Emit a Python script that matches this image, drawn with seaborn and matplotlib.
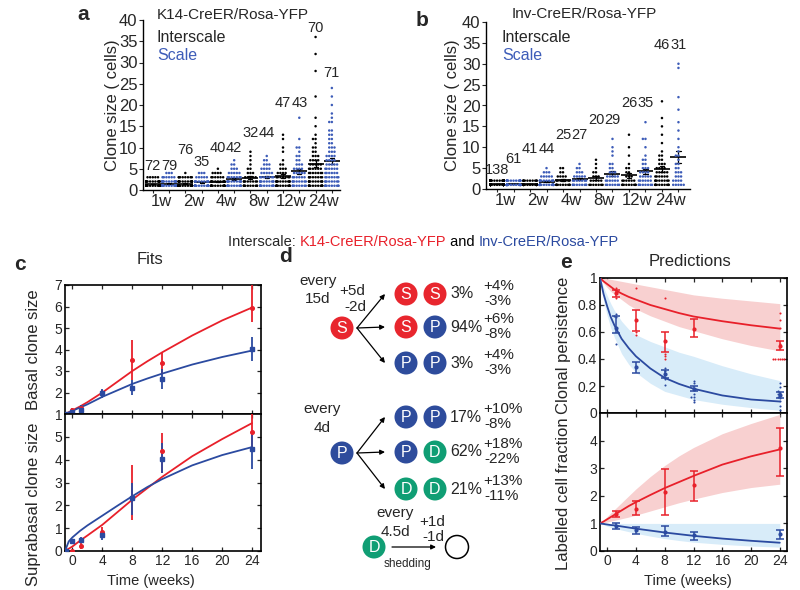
import warnings

import numpy as np
import pandas as pd
import matplotlib

matplotlib.use("Agg")
import matplotlib.pyplot as plt
from matplotlib.patches import Circle
import seaborn as sns

warnings.filterwarnings("ignore")

# ---------------- panels a / b : clone sizes, {clone size: number of clones}
weeks = ["1w", "2w", "4w", "8w", "12w", "24w"]

k14_interscale = [
    {1: 50, 2: 17, 3: 5},
    {1: 50, 2: 17, 3: 8, 4: 1},
    {1: 18, 2: 11, 3: 6, 4: 4, 5: 1},
    {1: 10, 2: 8, 3: 5, 4: 3, 5: 2, 6: 1, 7: 1, 8: 1, 9: 1},
    {1: 14, 2: 12, 3: 7, 4: 4, 5: 3, 6: 2, 7: 1, 9: 1, 10: 1, 12: 1, 13: 1},
    {1: 13, 2: 10, 3: 8, 4: 7, 5: 6, 6: 5, 7: 4, 8: 3, 9: 2, 10: 2, 11: 1, 12: 2,
     13: 1, 15: 1, 17: 1, 22: 1, 28: 1, 32: 1, 36: 1},
]
k14_scale = [
    {1: 52, 2: 18, 3: 6, 4: 3},
    {1: 18, 2: 9, 3: 5, 4: 3},
    {1: 12, 2: 12, 3: 7, 4: 5, 5: 3, 6: 2, 7: 1},
    {1: 12, 2: 10, 3: 7, 4: 5, 5: 4, 6: 3, 7: 2, 8: 1},
    {1: 8, 2: 8, 3: 6, 4: 5, 5: 4, 6: 3, 7: 2, 8: 2, 9: 1, 10: 2, 12: 1, 17: 1},
    {1: 10, 2: 8, 3: 7, 4: 6, 5: 6, 6: 5, 7: 4, 8: 4, 9: 3, 10: 3, 11: 2, 12: 2,
     13: 2, 14: 2, 16: 2, 17: 1, 18: 1, 20: 1, 22: 1, 24: 1},
]
inv_interscale = [
    {1: 100, 2: 38},
    {1: 31, 2: 10},
    {1: 10, 2: 7, 3: 4, 4: 2, 5: 2},
    {1: 7, 2: 5, 3: 3, 4: 2, 5: 1, 6: 1, 7: 1},
    {1: 9, 2: 6, 3: 3, 4: 2, 5: 2, 6: 1, 8: 1, 10: 1, 13: 1},
    {1: 10, 2: 8, 3: 6, 4: 5, 5: 4, 6: 3, 7: 2, 8: 2, 9: 1, 11: 1, 13: 1, 15: 1,
     17: 1, 21: 1},
]
inv_scale = [
    {1: 46, 2: 15},
    {1: 25, 2: 10, 3: 5, 4: 3, 5: 1},
    {1: 9, 2: 7, 3: 5, 4: 3, 5: 2, 6: 1},
    {1: 7, 2: 6, 3: 5, 4: 3, 5: 2, 6: 2, 8: 1, 9: 1, 10: 1, 12: 1},
    {1: 8, 2: 6, 3: 5, 4: 4, 5: 3, 6: 2, 7: 2, 8: 1, 10: 1, 12: 2, 16: 1},
    {1: 5, 2: 4, 3: 3, 4: 3, 5: 2, 6: 2, 7: 1, 8: 2, 9: 1, 10: 1, 12: 1, 14: 1,
     16: 1, 19: 1, 22: 1, 29: 1, 30: 1},
]
# height at which the clone count is written above each column
k14_label_y = [5.6, 5.6, 9.5, 6.6, 10, 10, 13.5, 13.5, 20.5, 20.5, 38, 27.5]
inv_label_y = [4.5, 7.2, 9.6, 9.6, 13, 13, 16.5, 16.5, 20.5, 20.5, 34.5, 34.5]

# ---------------- panel c : fits (weeks)
c_times = [-0.9, 0, 1.2, 4, 8, 12, 24]
red_basal = [1.0, 1.2, 1.3, 2.0, 3.5, 3.38, 5.95]
red_basal_lo = [1.0, 1.1, 1.22, 1.9, 2.6, 2.87, 5.3]
red_basal_hi = [1.0, 1.3, 1.38, 2.12, 4.44, 3.85, 7.2]
blue_basal = [1.0, 1.1, 1.2, 1.98, 2.23, 2.62, 4.04]
blue_basal_lo = [1.0, 1.05, 1.1, 1.76, 1.88, 2.18, 3.46]
blue_basal_hi = [1.0, 1.18, 1.4, 2.18, 2.57, 3.09, 4.6]

red_supra = [0.0, 0.02, 0.22, 0.85, 2.3, 4.36, 5.2]
red_supra_lo = [0.0, 0.0, 0.07, 0.62, 1.36, 3.4, 4.4]
red_supra_hi = [0.0, 0.05, 0.36, 1.06, 3.77, 5.16, 6.3]
blue_supra = [0.0, 0.45, 0.5, 0.7, 2.3, 4.02, 4.45]
blue_supra_lo = [0.0, 0.4, 0.35, 0.5, 1.58, 3.4, 3.6]
blue_supra_hi = [0.0, 0.5, 0.62, 0.9, 3.0, 4.72, 5.25]

c_fit_t = [-1, -0.5, 0, 1, 2, 4, 6, 8, 10, 12, 16, 20, 24]
red_basal_fit = [1.0, 1.08, 1.17, 1.35, 1.55, 2.0, 2.5, 3.0, 3.45, 3.87, 4.65, 5.35, 5.95]
blue_basal_fit = [1.0, 1.07, 1.15, 1.3, 1.45, 1.8, 2.1, 2.4, 2.65, 2.88, 3.3, 3.65, 3.95]
red_supra_fit = [0.0, 0.1, 0.2, 0.45, 0.68, 1.15, 1.7, 2.25, 2.75, 3.25, 4.15, 4.9, 5.6]
blue_supra_fit = [0.0, 0.42, 0.6, 0.88, 1.12, 1.55, 1.98, 2.4, 2.8, 3.15, 3.75, 4.2, 4.55]

# ---------------- panel e : predictions
e_times = [1.2, 4, 8, 12, 24]
red_pers = [0.89, 0.69, 0.53, 0.62, 0.5]
red_pers_lo = [0.86, 0.61, 0.45, 0.56, 0.47]
red_pers_hi = [0.91, 0.76, 0.6, 0.7, 0.53]
blue_pers = [0.63, 0.34, 0.29, 0.18, 0.133]
blue_pers_lo = [0.59, 0.3, 0.26, 0.165, 0.11]
blue_pers_hi = [0.72, 0.38, 0.32, 0.2, 0.157]

red_frac = [1.35, 1.52, 2.12, 2.39, 3.72]
red_frac_lo = [1.25, 1.3, 1.3, 1.82, 2.72]
red_frac_hi = [1.45, 1.82, 2.96, 2.9, 4.46]
blue_frac = [0.9, 0.75, 0.69, 0.57, 0.6]
blue_frac_lo = [0.78, 0.6, 0.53, 0.41, 0.45]
blue_frac_hi = [1.03, 0.87, 0.9, 0.69, 0.75]

# individual persistence values
red_dot_t = [1.2, 1.2, 4, 4, 4, 8, 8, 8, 8, 24, 24, 24, 24, 24, 24, 24, 24, 24, 24]
red_dot_v = [0.925, 0.85, 0.925, 0.58, 0.6, 0.85, 0.4, 0.42, 0.44,
             0.4, 0.4, 0.4, 0.4, 0.4, 0.4, 0.74, 0.69, 0.63, 0.51]
blue_dot_t = [1.2, 1.2, 1.2, 1.2, 8, 8, 8, 8, 12, 12, 12, 12, 12, 12, 12,
              24, 24, 24, 24, 24, 24, 24, 24, 24, 24, 24]
blue_dot_v = [0.71, 0.72, 0.73, 0.51, 0.21, 0.25, 0.31, 0.33,
              0.08, 0.1, 0.12, 0.12, 0.14, 0.22, 0.24,
              0.02, 0.05, 0.09, 0.11, 0.12, 0.13, 0.14, 0.15, 0.16, 0.19, 0.22]

e_fit_t = [-1, -0.5, 0, 0.5, 1, 2, 3, 4, 6, 8, 10, 12, 16, 20, 24]
red_pers_fit = [1.0, 0.975, 0.955, 0.935, 0.915, 0.885, 0.86, 0.84, 0.8, 0.77, 0.74, 0.715, 0.68, 0.65, 0.625]
red_pers_band_lo = [1.0, 0.96, 0.93, 0.9, 0.88, 0.84, 0.8, 0.77, 0.72, 0.68, 0.64, 0.61, 0.55, 0.5, 0.46]
red_pers_band_hi = [1.0, 1.0, 0.995, 0.99, 0.985, 0.975, 0.965, 0.955, 0.935, 0.915, 0.895, 0.875, 0.85, 0.83, 0.81]
blue_pers_fit = [1.0, 0.88, 0.79, 0.71, 0.65, 0.55, 0.48, 0.42, 0.33, 0.26, 0.215, 0.18, 0.13, 0.1, 0.085]
blue_pers_band_lo = [1.0, 0.83, 0.72, 0.63, 0.56, 0.44, 0.36, 0.3, 0.22, 0.16, 0.13, 0.1, 0.065, 0.04, 0.02]
blue_pers_band_hi = [1.0, 0.93, 0.87, 0.81, 0.76, 0.68, 0.62, 0.58, 0.53, 0.49, 0.45, 0.42, 0.35, 0.29, 0.24]

red_frac_fit = [1.0, 1.07, 1.15, 1.23, 1.31, 1.47, 1.63, 1.77, 2.03, 2.28, 2.5, 2.72, 3.13, 3.43, 3.68]
red_frac_band_lo = [1.0, 1.02, 1.05, 1.08, 1.11, 1.17, 1.23, 1.3, 1.45, 1.6, 1.75, 1.88, 2.12, 2.3, 2.42]
red_frac_band_hi = [1.0, 1.12, 1.25, 1.38, 1.5, 1.75, 2.0, 2.25, 2.7, 3.1, 3.45, 3.75, 4.25, 4.62, 4.95]
blue_frac_fit = [1.0, 0.98, 0.96, 0.94, 0.93, 0.89, 0.85, 0.81, 0.74, 0.67, 0.61, 0.55, 0.45, 0.37, 0.3]
blue_frac_band_lo = [1.0, 0.95, 0.9, 0.86, 0.82, 0.76, 0.7, 0.64, 0.54, 0.45, 0.38, 0.32, 0.24, 0.18, 0.14]
blue_frac_band_hi = [1.0, 1.0, 1.0, 1.0, 1.0, 1.0, 1.0, 1.0, 1.0, 1.0, 1.0, 1.0, 1.0, 1.0, 1.0]

# ---------------- panel d : division scheme
s_fates = [("S", "S", "3%", "+4%", "-3%"),
           ("S", "P", "94%", "+6%", "-8%"),
           ("P", "P", "3%", "+4%", "-3%")]
p_fates = [("P", "P", "17%", "+10%", "-8%"),
           ("P", "D", "62%", "+18%", "-22%"),
           ("D", "D", "21%", "+13%", "-11%")]

RED = "#e8202a"
BLUE = "#2b4aa0"
DOT_BLUE = "#3d5cb8"
CELL = {"S": "#e8262e", "P": "#2e4c9c", "D": "#109e74"}
W, H = 800, 590


def px_rect(x0, y0, x1, y1):
    return [x0 / W, 1 - y1 / H, (x1 - x0) / W, (y1 - y0) / H]


def fig_text(fig, x, y, s, **kw):
    return fig.text(x / W, 1 - y / H, s, **kw)


def clone_frame(interscale, scale):
    parts = []
    for wk, ci, cs in zip(weeks, interscale, scale):
        for tissue, counts in (("Interscale", ci), ("Scale", cs)):
            sizes = np.repeat(list(counts.keys()), list(counts.values()))
            parts.append(pd.DataFrame({"group": f"{wk} {tissue}", "tissue": tissue, "size": sizes}))
    return pd.concat(parts, ignore_index=True)


ORDER = [f"{wk} {t}" for wk in weeks for t in ("Interscale", "Scale")]


def clone_panel(ax, df, label_y, xlim):
    sns.swarmplot(data=df, x="group", y="size", hue="tissue", order=ORDER,
                  palette={"Interscale": "black", "Scale": DOT_BLUE},
                  size=1.8, linewidth=0, legend=False, ax=ax)
    sns.pointplot(data=df, x="group", y="size", order=ORDER, errorbar="se",
                  color="black", markers="_", linestyle="none", capsize=0.25,
                  markersize=11, markeredgewidth=1.2, err_kws={"linewidth": 0.9}, ax=ax)
    n = df.groupby("group").size()
    for i, (g, y) in enumerate(zip(ORDER, label_y)):
        ax.text(i, y, str(n[g]), ha="center", va="center", fontsize=10.5)
    ax.set_xlim(*xlim)
    ax.set_ylim(0, 40)
    ax.set_yticks(range(0, 41, 5))
    ax.set_xticks(range(12))
    ax.set_xticklabels([])
    ax.set_xticks([0.5 + 2 * i for i in range(6)], minor=True)
    ax.set_xticklabels(weeks, minor=True)
    ax.tick_params(axis="x", which="major", length=2.5, width=0.8)
    ax.tick_params(axis="x", which="minor", length=0, labelsize=12, pad=3)
    ax.tick_params(axis="y", length=3, width=0.8, labelsize=12, pad=1)
    ax.set_xlabel("")
    ax.set_ylabel("Clone size ( cells)", fontsize=12)
    sns.despine(ax=ax)
    for s in ("left", "bottom"):
        ax.spines[s].set_linewidth(1.0)
        ax.spines[s].set_color("black")


def box_axes(ax, xlim, ylim, yticks, ylabels, xlabels=True):
    ax.set_xlim(*xlim)
    ax.set_ylim(*ylim)
    ax.set_xticks(range(0, 25, 4))
    ax.set_yticks(yticks)
    ax.set_yticklabels(ylabels)
    if not xlabels:
        ax.set_xticklabels([])
    ax.tick_params(direction="in", top=True, right=True, length=3, width=0.9,
                   labelsize=10, pad=2)
    for s in ax.spines.values():
        s.set_linewidth(1.2)
        s.set_color("black")
    ax.set_xlabel("")


def fit_series(ax, t, v, lo, hi, fit_t, fit_v, color, marker):
    v, lo, hi = np.asarray(v), np.asarray(lo), np.asarray(hi)
    sns.lineplot(x=fit_t, y=fit_v, color=color, linewidth=1.3, ax=ax, zorder=3)
    ax.errorbar(t, v, yerr=[v - lo, hi - v], fmt=marker, ms=2.6, color=color,
                elinewidth=1.3, capsize=0, zorder=4)


def pred_series(ax, t, v, lo, hi, fit_t, fit_v, band_lo, band_hi, color, band):
    v, lo, hi = np.asarray(v), np.asarray(lo), np.asarray(hi)
    ax.fill_between(fit_t, band_lo, band_hi, color=band, lw=0, zorder=1)
    sns.lineplot(x=fit_t, y=fit_v, color=color, linewidth=1.3, ax=ax, zorder=3)
    ax.errorbar(t, v, yerr=[v - lo, hi - v], fmt="o", ms=2, color=color,
                elinewidth=1.1, capsize=3, capthick=1.1, zorder=4)


def main():
    sns.set_theme(style="ticks")
    plt.rcParams["font.family"] = ["Liberation Sans", "DejaVu Sans"]
    fig = plt.figure(figsize=(8, 5.9), dpi=100)

    # ---- a
    ax_a = fig.add_axes(px_rect(143, 20, 340, 190))
    clone_panel(ax_a, clone_frame(k14_interscale, k14_scale), k14_label_y, (-0.6, 11.5))
    ax_a.yaxis.set_label_coords(-0.117, 0.5)
    fig_text(fig, 83, 15, "a", fontsize=15, fontweight="bold", ha="center", va="center")
    fig_text(fig, 157, 15, "K14-CreER/Rosa-YFP", fontsize=11, va="center")
    fig_text(fig, 157, 37, "Interscale", fontsize=11.5, va="center")
    fig_text(fig, 157, 56, "Scale", fontsize=11.5, va="center", color=DOT_BLUE)

    # ---- b
    ax_b = fig.add_axes(px_rect(486, 22, 690, 189))
    clone_panel(ax_b, clone_frame(inv_interscale, inv_scale), inv_label_y, (-0.67, 11.7))
    ax_b.yaxis.set_label_coords(-0.127, 0.5)
    fig_text(fig, 422, 20, "b", fontsize=15, fontweight="bold", ha="center", va="center")
    fig_text(fig, 512, 14, "Inv-CreER/Rosa-YFP", fontsize=11, va="center")
    fig_text(fig, 502, 37, "Interscale", fontsize=11.5, va="center")
    fig_text(fig, 502, 56, "Scale", fontsize=11.5, va="center", color=DOT_BLUE)

    # ---- d (pixel coordinates), also carries the strain line
    ax_d = fig.add_axes(px_rect(270, 250, 540, 590))
    ax_d.set_xlim(270, 540)
    ax_d.set_ylim(590, 250)
    ax_d.axis("off")

    t0 = fig_text(fig, 228, 242, "Interscale: ", fontsize=10.5, va="center")
    prev = t0
    for s, col in (("K14-CreER/Rosa-YFP", RED), (" and ", "black"), ("Inv-CreER/Rosa-YFP", BLUE)):
        prev = ax_d.annotate(s, xy=(1, 0), xycoords=prev, va="bottom", ha="left",
                             fontsize=10.5, color=col, annotation_clip=False)

    # ---- c
    ax_c1 = fig.add_axes(px_rect(65, 285, 261, 414))
    ax_c2 = fig.add_axes(px_rect(65, 414, 261, 551))
    fit_series(ax_c1, c_times, red_basal, red_basal_lo, red_basal_hi, c_fit_t, red_basal_fit, RED, "o")
    fit_series(ax_c1, c_times, blue_basal, blue_basal_lo, blue_basal_hi, c_fit_t, blue_basal_fit, BLUE, "s")
    fit_series(ax_c2, c_times, red_supra, red_supra_lo, red_supra_hi, c_fit_t, red_supra_fit, RED, "o")
    fit_series(ax_c2, c_times, blue_supra, blue_supra_lo, blue_supra_hi, c_fit_t, blue_supra_fit, BLUE, "s")
    box_axes(ax_c1, (-1, 25.2), (1, 7), range(1, 8), [str(i) for i in range(1, 8)], xlabels=False)
    box_axes(ax_c2, (-1, 25.2), (0, 6), range(0, 6), [str(i) for i in range(0, 6)])
    ax_c1.set_ylabel("Basal clone size", fontsize=12)
    ax_c2.set_ylabel("Suprabasal clone size", fontsize=12)
    ax_c1.yaxis.set_label_coords(-0.122, 0.5)
    ax_c2.yaxis.set_label_coords(-0.122, 0.343)
    ax_c2.set_xlabel("Time (weeks)", fontsize=10.5)
    ax_c2.xaxis.set_label_coords(0.44, -0.17)
    fig_text(fig, 20, 265, "c", fontsize=15, fontweight="bold", ha="center", va="center")
    fig_text(fig, 150, 260, "Fits", fontsize=12, ha="center", va="center")

    # ---- e
    ax_e1 = fig.add_axes(px_rect(600, 278, 787, 413))
    ax_e2 = fig.add_axes(px_rect(600, 413, 787, 551))
    pred_series(ax_e1, e_times, red_pers, red_pers_lo, red_pers_hi, e_fit_t, red_pers_fit,
                red_pers_band_lo, red_pers_band_hi, RED, "#f8d0d0")
    pred_series(ax_e1, e_times, blue_pers, blue_pers_lo, blue_pers_hi, e_fit_t, blue_pers_fit,
                blue_pers_band_lo, blue_pers_band_hi, BLUE, "#d8ecf9")
    sns.swarmplot(x=red_dot_t, y=red_dot_v, native_scale=True, orient="x", color=RED,
                  size=1.5, linewidth=0, ax=ax_e1, zorder=5)
    sns.swarmplot(x=blue_dot_t, y=blue_dot_v, native_scale=True, orient="x", color=BLUE,
                  size=1.5, linewidth=0, ax=ax_e1, zorder=5)
    pred_series(ax_e2, e_times, red_frac, red_frac_lo, red_frac_hi, e_fit_t, red_frac_fit,
                red_frac_band_lo, red_frac_band_hi, RED, "#f8d0d0")
    pred_series(ax_e2, e_times, blue_frac, blue_frac_lo, blue_frac_hi, e_fit_t, blue_frac_fit,
                blue_frac_band_lo, blue_frac_band_hi, BLUE, "#d8ecf9")
    box_axes(ax_e1, (-1, 25), (0, 1), [0, 0.2, 0.4, 0.6, 0.8, 1.0],
             ["0", "0.2", "0.4", "0.6", "0.8", "1"], xlabels=False)
    box_axes(ax_e2, (-1, 25), (0, 5), range(0, 5), [str(i) for i in range(0, 5)])
    ax_e1.set_ylabel("Clonal persistence", fontsize=12)
    ax_e2.set_ylabel("Labelled cell fraction", fontsize=12)
    ax_e1.yaxis.set_label_coords(-0.155, 0.5)
    ax_e2.yaxis.set_label_coords(-0.155, 0.415)
    ax_e2.set_xlabel("Time (weeks)", fontsize=10.5)
    ax_e2.xaxis.set_label_coords(0.47, -0.17)
    fig_text(fig, 566, 262, "e", fontsize=15, fontweight="bold", ha="center", va="center")
    fig_text(fig, 690, 262, "Predictions", fontsize=12, ha="center", va="center")

    # ---- d drawing
    fig_text(fig, 285, 257, "d", fontsize=15, fontweight="bold", ha="center", va="center")

    def cell(x, y, letter):
        if letter:
            ax_d.add_patch(Circle((x, y), 11.5, facecolor=CELL[letter], lw=0, clip_on=False))
            ax_d.text(x, y + 0.5, letter, color="white", ha="center", va="center", fontsize=11.5)
        else:
            ax_d.add_patch(Circle((x, y), 11.5, facecolor="white", edgecolor="black", lw=1.1, clip_on=False))

    def arrow(x0, y0, x1, y1):
        ax_d.annotate("", xy=(x1, y1), xytext=(x0, y0), annotation_clip=False,
                      arrowprops=dict(arrowstyle="-|>", lw=0.9, color="black",
                                      mutation_scale=7, shrinkA=0, shrinkB=0))

    def fates(rows, rows_y, parent, py, label_lines):
        cell(342, py, parent)
        for (a, b, pct, up, dn), y in zip(rows, rows_y):
            arrow(357, py, 385, y)
            cell(406, y, a)
            cell(435, y, b)
            ax_d.text(450, y, pct, ha="left", va="center", fontsize=11.5)
            ax_d.text(483, y - 8, up, ha="left", va="center", fontsize=11)
            ax_d.text(484, y + 7, dn, ha="left", va="center", fontsize=11)
        for x, y, s in label_lines:
            ax_d.text(x, y, s, ha="center", va="center", fontsize=11)

    fates(s_fates, [294, 327, 363], "S", 328,
          [(318, 281, "every"), (318, 299, "15d"), (352, 291, "+5d"), (355, 307, "-2d")])
    fates(p_fates, [417, 452, 489], "P", 453,
          [(322, 409, "every"), (322, 428, "4d")])

    cell(374, 547, "D")
    arrow(392, 547, 436, 547)
    cell(457, 547, "")
    for x, y, s in [(395, 513, "every"), (395, 532, "4.5d"), (432, 522, "+1d"), (433, 537, "-1d")]:
        ax_d.text(x, y, s, ha="center", va="center", fontsize=11)
    ax_d.text(408, 564, "shedding", ha="center", va="center", fontsize=8.5)

    fig.savefig("out.png", dpi=100)


if __name__ == "__main__":
    main()
